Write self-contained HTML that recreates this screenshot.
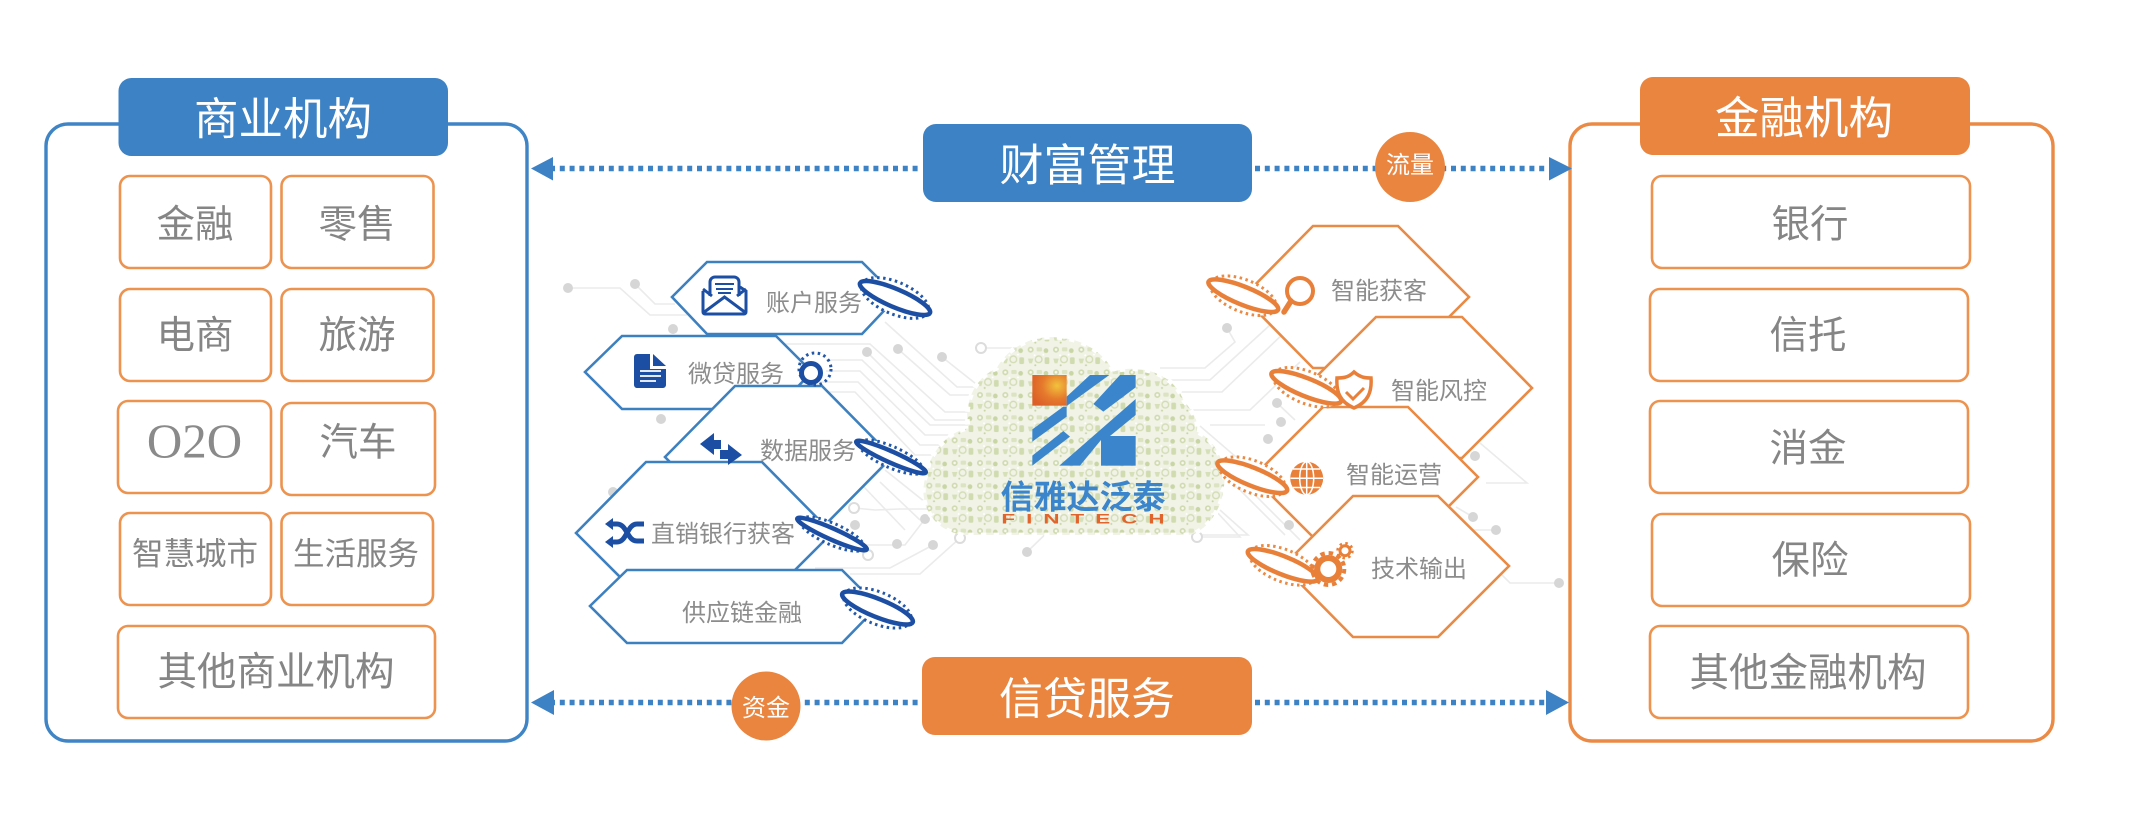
<!DOCTYPE html>
<html lang="zh">
<head>
<meta charset="utf-8">
<title>信雅达泛泰</title>
<style>
html,body{margin:0;padding:0;background:#fff;width:2146px;height:818px;overflow:hidden}
svg{display:block}
text{font-family:"Liberation Sans","Noto Sans CJK SC",sans-serif;dominant-baseline:central;text-anchor:middle}
.g{fill:#858585;font-size:38.5px;font-weight:400}
.s{fill:#8c8c8c;font-size:24px;font-weight:400}
.w{fill:#fff;font-size:44px;font-weight:400}
.c{fill:#fff;stroke:#ed9350;stroke-width:2.6}
.hb{fill:#fff;stroke:#3d80c0;stroke-width:2.6;stroke-linejoin:miter}
.ho{fill:#fff;stroke:#e98a45;stroke-width:2.6;stroke-linejoin:miter}
.el{fill:none;stroke:#ebebeb;stroke-width:1.6}
.dot{fill:#d6d6d6}
.ring{fill:#fff;stroke:#dcdcdc;stroke-width:2}
.db{fill:none;stroke:#2358a8;stroke-width:3;stroke-dasharray:2.500 3.500}
.sb{fill:#fff;stroke:#1c4fa3;stroke-width:4.500}
.dO{fill:none;stroke:#e98a45;stroke-width:3;stroke-dasharray:2.500 3.500}
.sO{fill:#fff;stroke:#e9803a;stroke-width:4.500}
</style>
</head>
<body>
<svg width="2146" height="818" viewBox="0 0 2146 818" xmlns="http://www.w3.org/2000/svg">
<defs>
<pattern id="pt" width="76" height="68" patternUnits="userSpaceOnUse">
<rect width="76" height="68" fill="#f0f3e5"/>
<circle cx="12" cy="13" r="9" fill="#cfdab0"/>
<circle cx="12" cy="13" r="4" fill="#f7f8f0"/>
<rect x="30" y="6" width="16" height="12" rx="3" fill="#dbe3c2"/>
<circle cx="58" cy="16" r="7" fill="#c8d5a4"/>
<path d="M4 40h16l-4 14H8z" fill="#d5dfb8"/>
<circle cx="36" cy="42" r="10" fill="none" stroke="#d2dcb4" stroke-width="4"/>
<rect x="54" y="36" width="14" height="20" rx="4" fill="#d0dbb0"/>
<circle cx="24" cy="30" r="3" fill="#fff"/>
<circle cx="50" cy="28" r="3" fill="#fff"/>
<circle cx="26" cy="60" r="3" fill="#c8d5a4"/>
</pattern>
<radialGradient id="og" cx="0.72" cy="0.35" r="0.8">
<stop offset="0" stop-color="#f2c23c"/>
<stop offset="0.55" stop-color="#e5792c"/>
<stop offset="1" stop-color="#dc5f27"/>
</radialGradient>
</defs>

<!-- circuit background -->
<g>
<path class="el" d="M568 288H620L650 315H687"/>
<path class="el" d="M635 284L655 304H675"/>
<path class="el" d="M885 322L957 387H985"/>
<path class="el" d="M780 344H870L945 412H985"/>
<path class="el" d="M867 352L935 420H985"/>
<path class="el" d="M898 349L950 395H985"/>
<path class="el" d="M942 357L990 395H1010"/>
<path class="el" d="M981 348H1040"/>
<path class="el" d="M826 360H862L930 425H985"/>
<path class="el" d="M826 371H860L925 435H985"/>
<path class="el" d="M820 382H858L920 445H965"/>
<path class="el" d="M826 392H855L915 455H960"/>
<path class="el" d="M885 470L935 510H960"/>
<path class="el" d="M880 482L920 520"/>
<path class="el" d="M864 487L905 530"/>
<path class="el" d="M854 508L875 510L900 509H960"/>
<path class="el" d="M840 545H905L925 519"/>
<path class="el" d="M815 568H890L933 545"/>
<path class="el" d="M850 574H920L960 538"/>
<path class="el" d="M1027 552L1060 520"/>
<path class="el" d="M1197 537H1240L1215 510"/>
<path class="el" d="M1227 328L1235 342L1205 368H1160"/>
<path class="el" d="M1160 380H1210L1270 325"/>
<path class="el" d="M1160 392H1222L1285 332"/>
<path class="el" d="M1185 410H1250L1300 362"/>
<path class="el" d="M1210 425H1265"/>
<path class="el" d="M1277 403L1295 420"/>
<path class="el" d="M1200 426L1315 525"/>
<path class="el" d="M1200 440L1300 540"/>
<path class="el" d="M1205 455L1285 535"/>
<path class="el" d="M1220 510L1248 535H1195"/>
<path class="el" d="M1480 443L1527 483H1486"/>
<path class="el" d="M1473 517L1456 507"/>
<path class="el" d="M1496 530H1470"/>
<path class="el" d="M1559 583H1510L1500 573"/>
<g class="dot">
<circle cx="568" cy="288" r="5"/><circle cx="635" cy="284" r="5"/><circle cx="673" cy="329" r="5"/>
<circle cx="867" cy="352" r="5"/><circle cx="898" cy="349" r="5"/><circle cx="942" cy="357" r="5"/>
<circle cx="661" cy="419" r="5"/><circle cx="613" cy="492" r="5"/><circle cx="855" cy="525" r="5"/>
<circle cx="897" cy="544" r="5"/><circle cx="925" cy="519" r="5"/><circle cx="933" cy="545" r="5"/>
<circle cx="1027" cy="552" r="5"/><circle cx="1227" cy="328" r="5"/><circle cx="1277" cy="403" r="5"/>
<circle cx="1281" cy="422" r="5"/><circle cx="1268" cy="439" r="5"/><circle cx="1475" cy="456" r="5"/>
<circle cx="1289" cy="525" r="5"/><circle cx="1473" cy="517" r="5"/><circle cx="1496" cy="530" r="5"/>
<circle cx="1559" cy="583" r="5"/>
</g>
<circle class="ring" cx="981" cy="348" r="5"/><circle class="ring" cx="854" cy="508" r="5"/>
<circle class="ring" cx="868" cy="555" r="5"/><circle class="ring" cx="960" cy="538" r="5"/>
<circle class="ring" cx="1197" cy="537" r="5"/>
</g>

<!-- cloud and logo -->
<g transform="translate(900,300) scale(.33333)">
<path fill="url(#pt)" stroke="#fff" stroke-width="14" stroke-dasharray="16 22" d="M190,705C90,690 50,600 80,520C95,440 160,390 205,385C190,300 230,230 290,205C330,130 420,100 490,115C560,120 620,170 640,215C720,190 820,220 850,300C890,350 895,370 890,395C950,420 985,500 970,570C960,650 900,705 860,705Z"/>
<rect x="397" y="225" width="103" height="92" fill="url(#og)"/>
<g fill="#3a85cc">
<polygon points="500,290 570,225 628,225 500,318"/>
<polygon points="580,312 660,225 707,225 707,262 610,335"/>
<polygon points="397,388 490,320 500,320 500,350 397,425"/>
<polygon points="397,467 490,393 510,410 397,497"/>
<polygon points="478,497 707,297 707,345 630,408 603,408 603,420 540,497"/>
<rect x="603" y="408" width="104" height="89"/>
</g>
</g>
<text x="1083" y="497" style="font-size:33px;font-weight:700;fill:#3a85cc">信雅达泛泰</text>
<text transform="translate(1083 518.500) scale(1.6 1)" textLength="102" lengthAdjust="spacing" style="font-size:14px;font-weight:700;fill:#e0642c">FINTECH</text>

<!-- left panel -->
<rect x="46" y="124" width="481" height="617" rx="22" fill="#fff" stroke="#3f84c5" stroke-width="3.4"/>
<rect x="118.500" y="78" width="329.500" height="78" rx="13" fill="#3d82c4"/>
<text class="w" x="283" y="120" style="font-size:44.500px">商业机构</text>
<rect class="c" x="120" y="176" width="151" height="92" rx="10"/>
<rect class="c" x="281.500" y="176" width="152" height="92" rx="10"/>
<rect class="c" x="120" y="289" width="151" height="92" rx="10"/>
<rect class="c" x="281.500" y="289" width="152" height="92" rx="10"/>
<rect class="c" x="118" y="401" width="153" height="92" rx="10"/>
<rect class="c" x="281.500" y="403" width="153.500" height="92" rx="10"/>
<rect class="c" x="120" y="513" width="151" height="92" rx="10"/>
<rect class="c" x="281.500" y="513" width="151.500" height="92" rx="10"/>
<rect class="c" x="118" y="626" width="317" height="92" rx="10"/>
<text class="g" x="195" y="225">金融</text>
<text class="g" x="357" y="225">零售</text>
<text class="g" x="195" y="336">电商</text>
<text class="g" x="357" y="336">旅游</text>
<text x="194.500" y="441" style="font-family:'Liberation Serif',serif;font-size:49px;fill:#8a8a8a">O2O</text>
<text class="g" x="358" y="443">汽车</text>
<text class="g" x="195" y="553.500" style="font-size:31.500px">智慧城市</text>
<text class="g" x="356" y="553.500" style="font-size:31.500px">生活服务</text>
<text class="g" x="276" y="672.500" style="font-size:39.500px">其他商业机构</text>

<!-- right panel -->
<rect x="1570" y="124" width="483" height="617" rx="22" fill="#fff" stroke="#ea8a45" stroke-width="3.4"/>
<rect x="1640" y="77" width="330" height="78" rx="13" fill="#ea8540"/>
<text class="w" x="1804" y="119" style="font-size:44.500px">金融机构</text>
<rect class="c" x="1652" y="176" width="318" height="92" rx="10"/>
<rect class="c" x="1650" y="289" width="318" height="92" rx="10"/>
<rect class="c" x="1650" y="401" width="318" height="92" rx="10"/>
<rect class="c" x="1652" y="514" width="318" height="92" rx="10"/>
<rect class="c" x="1650" y="626" width="318" height="92" rx="10"/>
<text class="g" x="1810" y="225">银行</text>
<text class="g" x="1808" y="336">信托</text>
<text class="g" x="1808" y="449">消金</text>
<text class="g" x="1810" y="561">保险</text>
<text class="g" x="1808" y="673.500" style="font-size:39.500px">其他金融机构</text>

<!-- arrows -->
<g stroke="#3d82c4" stroke-width="5.500" stroke-dasharray="5 4.800" fill="none">
<line x1="550" y1="168.500" x2="922" y2="168.500"/>
<line x1="1255" y1="168.500" x2="1550" y2="168.500"/>
<line x1="550" y1="702.500" x2="922" y2="702.500"/>
<line x1="1255" y1="702.500" x2="1550" y2="702.500"/>
</g>
<g fill="#3d82c4">
<polygon points="531,168.500 553,157 553,180.500"/>
<polygon points="1572,168.500 1549,157 1549,180.500"/>
<polygon points="531,702.500 554,690 554,715"/>
<polygon points="1569,702.500 1546,690 1546,715"/>
</g>
<rect x="923" y="124" width="329" height="78" rx="13" fill="#3d82c4"/>
<rect x="922" y="657" width="330" height="78" rx="13" fill="#ea8540"/>
<circle cx="1410" cy="167" r="35" fill="#ea8540"/>
<circle cx="766" cy="706" r="34.500" fill="#ea8540"/>
<text class="w" x="1087.500" y="166">财富管理</text>
<text class="w" x="1087" y="699.500">信贷服务</text>
<text class="w" x="1410" y="165.500" style="font-size:24px">流量</text>
<text class="w" x="766" y="708.500" style="font-size:24px">资金</text>

<!-- left hexagons -->
<polygon class="hb" points="672,297 707,262 862,262 897,297 862,334 707,334"/>
<polygon class="hb" points="585,372 622,336 776,336 812,372 776,409 622,409"/>
<polygon class="hb" points="665,457 735,386 822,386 892,457 822,528 735,528"/>
<polygon class="hb" points="576,533 646,462 762,462 832,533 762,603 646,603"/>
<polygon class="hb" points="590,606 627,570 842,570 878,606 842,643 627,643"/>

<!-- left ellipses -->
<g>
<g transform="translate(895,298) rotate(23)">
<ellipse class="db" rx="36" ry="16" fill="#fff" style="fill:#fff"/>
<ellipse class="sb" rx="38" ry="9"/>
</g>
<circle class="db" cx="815" cy="369" r="16"/>
<circle class="sb" cx="811" cy="373" r="9.500" style="stroke-width:5"/>
<g transform="translate(891,457) rotate(24)">
<ellipse class="db" rx="35" ry="10.500" style="fill:#fff"/>
<ellipse class="sb" rx="38" ry="5.500"/>
</g>
<g transform="translate(832,534) rotate(24)">
<ellipse class="db" rx="35" ry="10.500" style="fill:#fff"/>
<ellipse class="sb" rx="38" ry="5.500"/>
</g>
<g transform="translate(877.500,608) rotate(22)">
<ellipse class="db" rx="36" ry="16" style="fill:#fff"/>
<ellipse class="sb" rx="38" ry="9"/>
</g>
</g>

<!-- left icons -->
<g fill="none" stroke="#1c4fa3" stroke-width="3">
<path d="M703 291L703 312a2 2 0 0 0 2 2H744a2 2 0 0 0 2-2V291l-6-4"/>
<path d="M710 296V282a5 5 0 0 1 5-5h19a5 5 0 0 1 5 5v14"/>
<path d="M703 313L724.500 297L746 313"/>
<path d="M703 289L712 296M746 289L737 296"/>
<path d="M715 284h19M716 289h17M718 293h13" stroke-width="2"/>
</g>
<path fill="#1c4fa3" d="M634 357a3 3 0 0 1 3-3H650V369H666V385a3 3 0 0 1-3 3H637a3 3 0 0 1-3-3Z"/>
<path fill="#1c4fa3" d="M653 354L666 366H653Z"/>
<path stroke="#fff" stroke-width="1.800" d="M640 371h21M640 376h21M640 381h16"/>
<g fill="#1c4fa3">
<polygon points="700,444 714,433 714,440 721,440 721,449 714,449 714,455"/>
<polygon points="742,455 728,465 728,459 720,459 720,450 728,450 728,444"/>
</g>
<g fill="none" stroke="#1c4fa3" stroke-width="5">
<path d="M610 524H617C627 524 627 541 637 541H644"/>
<path d="M610 542H617C627 542 627 524 637 524H644"/>
</g>
<polygon fill="#1c4fa3" points="605,524 613,518 613,530"/>
<polygon fill="#1c4fa3" points="605,542 613,536 613,548"/>

<!-- right hexagons -->
<polygon class="ho" points="1243,297 1313,226 1398,226 1469,297 1398,368 1313,368"/>
<polygon class="ho" points="1305,388 1376,317 1462,317 1532,388 1462,458 1376,458"/>
<polygon class="ho" points="1253,477 1323,407 1408,407 1478,477 1408,547 1323,547"/>
<polygon class="ho" points="1283,566 1353,496 1438,496 1509,566 1438,637 1353,637"/>

<!-- right ellipses -->
<g>
<g transform="translate(1243.300,295.700) rotate(22)">
<ellipse class="dO" rx="35" ry="16" style="fill:#fff"/>
<ellipse class="sO" rx="37.500" ry="9"/>
</g>
<g transform="translate(1306.300,387.300) rotate(22)">
<ellipse class="dO" rx="35" ry="16" style="fill:#fff"/>
<ellipse class="sO" rx="37.500" ry="9"/>
</g>
<g transform="translate(1252.300,476.700) rotate(22)">
<ellipse class="dO" rx="35" ry="16" style="fill:#fff"/>
<ellipse class="sO" rx="37.500" ry="9"/>
</g>
<g transform="translate(1282.700,565.300) rotate(22)">
<ellipse class="dO" rx="35" ry="16" style="fill:#fff"/>
<ellipse class="sO" rx="37.500" ry="9"/>
</g>
</g>

<!-- right icons -->
<g fill="none" stroke="#e9803a">
<circle cx="1300" cy="291" r="13" stroke-width="4"/>
<path d="M1291 301L1284 312" stroke-width="5.500" stroke-linecap="round"/>
<path d="M1354 372C1361 378 1366 378 1371 378C1372 392 1368 402 1354 408C1340 402 1336 392 1337 378C1342 378 1348 378 1354 372Z" fill="#fff" stroke-width="3.500"/>
<path d="M1346 392L1353 399L1364 388" stroke-width="3"/>
</g>
<circle cx="1306.700" cy="478.300" r="16.500" fill="#e9803a"/>
<g fill="none" stroke="#fff" stroke-width="1.500">
<ellipse cx="1306.700" cy="478.300" rx="7" ry="16.500"/>
<path d="M1306.700 462V495M1290.500 478.300H1323M1293 469H1320M1293 487.500H1320"/>
</g>
<g fill="none" stroke="#e9803a">
<circle cx="1328.300" cy="569" r="11" stroke-width="6"/>
<circle cx="1328.300" cy="569" r="16" stroke-width="4" stroke-dasharray="4.500 3.900"/>
<circle cx="1345" cy="550.700" r="5" stroke-width="3"/>
<circle cx="1345" cy="550.700" r="7.500" stroke-width="2.500" stroke-dasharray="2.500 3.400"/>
</g>

<!-- hex labels -->
<text class="s" x="814" y="303.500">账户服务</text>
<text class="s" x="736" y="374.500">微贷服务</text>
<text class="s" x="808" y="451.500">数据服务</text>
<text class="s" x="723" y="534.500">直销银行获客</text>
<text class="s" x="742" y="613.500">供应链金融</text>
<text class="s" x="1379" y="291.500">智能获客</text>
<text class="s" x="1439" y="391.500">智能风控</text>
<text class="s" x="1394" y="475.500">智能运营</text>
<text class="s" x="1419" y="569.500">技术输出</text>
</svg>
</body>
</html>
